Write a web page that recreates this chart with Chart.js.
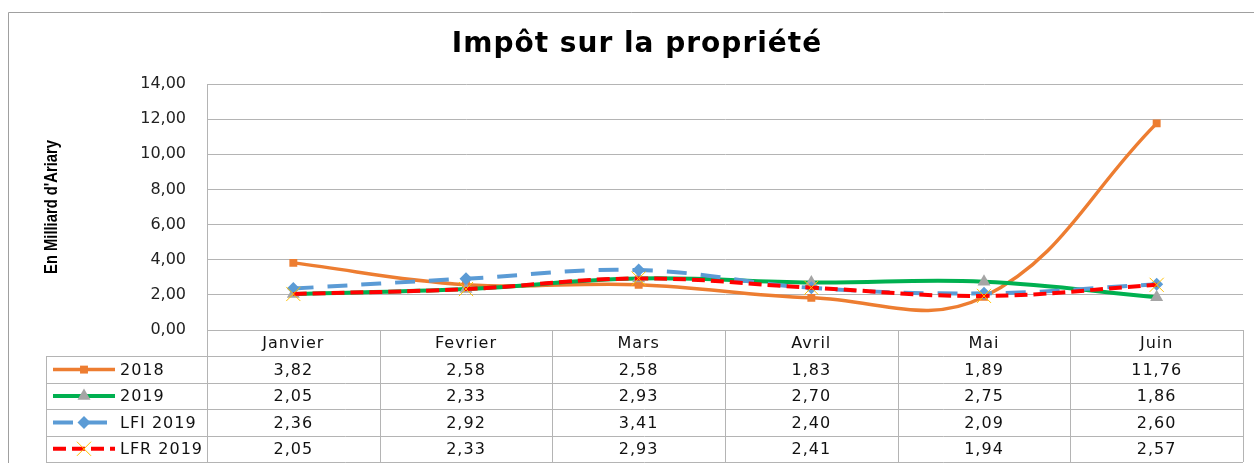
<!DOCTYPE html>
<html>
<head>
<meta charset="utf-8">
<script src="https://cdn.jsdelivr.net/npm/chart.js@4"></script>
<style>
  html, body { margin: 0; padding: 0; background: #fff; }
  #wrap { width: 1254px; height: 463px; }
</style>
</head>
<body>
<div id="wrap"><canvas id="chart" width="1254" height="463"></canvas></div>
<script>
// Data
const months = ['Janvier', 'Fevrier', 'Mars', 'Avril', 'Mai', 'Juin'];
const seriesNames = ['2018', '2019', 'LFI 2019', 'LFR 2019'];
const v2018 = [3.82, 2.58, 2.58, 1.83, 1.89, 11.76];
const v2019 = [2.05, 2.33, 2.93, 2.70, 2.75, 1.86];
const vLfi2019 = [2.36, 2.92, 3.41, 2.40, 2.09, 2.60];
const vLfr2019 = [2.05, 2.33, 2.93, 2.41, 1.94, 2.57];
const yMin = 0;
const yMax = 14;
const yStep = 2;
const chartTitle = 'Impôt sur la propriété';
const yTitle = "En Milliard d'Ariary";

const fmt = v => v.toFixed(2).replace('.', ',');
const gridColor = '#b4b4b4';
const tableFont = '16px "DejaVu Sans", sans-serif';

// Frame around the whole chart (cut off on the right and bottom like the picture)
const framePlugin = {
  id: 'frame',
  beforeDraw(chart) {
    const ctx = chart.ctx;
    ctx.save();
    ctx.strokeStyle = '#a0a0a0';
    ctx.lineWidth = 1;
    ctx.beginPath();
    ctx.moveTo(8.5, chart.height + 5);
    ctx.lineTo(8.5, 12.5);
    ctx.lineTo(chart.width + 5, 12.5);
    ctx.stroke();
    ctx.restore();
  }
};

// Title and rotated y axis title (narrow bold look)
const titlesPlugin = {
  id: 'titles',
  afterDraw(chart) {
    const ctx = chart.ctx;
    const area = chart.chartArea;
    ctx.save();
    ctx.fillStyle = '#000';
    ctx.font = 'bold 28px "DejaVu Sans", sans-serif';
    ctx.textAlign = 'center';
    ctx.textBaseline = 'middle';
    ctx.letterSpacing = '1px';
    ctx.fillText(chartTitle, 637, 45);
    ctx.restore();

    ctx.save();
    ctx.translate(52, (area.top + area.bottom) / 2);
    ctx.rotate(-Math.PI / 2);
    ctx.scale(0.82, 1);
    ctx.fillStyle = '#000';
    ctx.font = 'bold 18px "Liberation Sans", Arial, sans-serif';
    ctx.textAlign = 'center';
    ctx.textBaseline = 'middle';
    ctx.fillText(yTitle, 0, 0);
    ctx.restore();
  }
};

// Data table under the plot, with legend keys in the first column
const tablePlugin = {
  id: 'dataTable',
  afterDraw(chart) {
    const ctx = chart.ctx;
    const area = chart.chartArea;
    const xs = chart.scales.x;
    const colW = (area.right - area.left) / months.length;
    const rowH = 26.4;
    const top = area.bottom;
    const bottom = top + rowH * 5;
    const legendLeft = 46;

    ctx.save();
    ctx.strokeStyle = gridColor;
    ctx.lineWidth = 1;
    ctx.beginPath();
    for (let i = 0; i <= months.length; i++) {
      const x = Math.round(area.left + colW * i) + 0.5;
      ctx.moveTo(x, top);
      ctx.lineTo(x, bottom);
    }
    ctx.moveTo(legendLeft + 0.5, top + rowH);
    ctx.lineTo(legendLeft + 0.5, bottom);
    for (let r = 1; r <= 5; r++) {
      const y = Math.round(top + rowH * r) + 0.5;
      ctx.moveTo(legendLeft, y);
      ctx.lineTo(area.right, y);
    }
    ctx.stroke();

    ctx.fillStyle = '#111';
    ctx.font = tableFont;
    ctx.textAlign = 'center';
    ctx.textBaseline = 'middle';
    ctx.letterSpacing = '1px';
    months.forEach((m, i) => {
      ctx.fillText(m, xs.getPixelForValue(i), top + rowH / 2 + 1);
    });

    chart.data.datasets.forEach((ds, r) => {
      const cy = top + rowH * (r + 1.5) + 1;
      ctx.fillStyle = '#111';
      ctx.textAlign = 'center';
      ds.data.forEach((v, i) => {
        ctx.fillText(fmt(v), xs.getPixelForValue(i), cy);
      });
      // legend key
      ctx.save();
      ctx.strokeStyle = ds.borderColor;
      ctx.lineWidth = ds.borderWidth;
      ctx.setLineDash(ds.borderDash || []);
      ctx.beginPath();
      ctx.moveTo(53, cy - 1);
      ctx.lineTo(115, cy - 1);
      ctx.stroke();
      ctx.restore();
      ctx.save();
      ctx.setLineDash([]);
      ctx.fillStyle = ds.pointBackgroundColor;
      ctx.strokeStyle = ds.pointBorderColor;
      Chart.helpers.drawPoint(ctx, {
        pointStyle: ds.pointStyle,
        rotation: 0,
        radius: ds.pointRadius,
        borderWidth: ds.pointBorderWidth
      }, 84, cy - 1);
      ctx.restore();
      ctx.textAlign = 'left';
      ctx.fillStyle = '#111';
      ctx.fillText(ds.label, 120, cy);
    });
    ctx.restore();
  }
};

const ctx = document.getElementById('chart').getContext('2d');
const chart = new Chart(ctx, {
  type: 'line',
  data: {
    labels: months,
    datasets: [
      {
        label: seriesNames[0],
        data: v2018,
        borderColor: '#ED7D31',
        borderWidth: 3.5,
        pointStyle: 'rect',
        pointRadius: 5.6,
        pointBackgroundColor: '#ED7D31',
        pointBorderColor: '#ED7D31',
        pointBorderWidth: 0,
        order: 3
      },
      {
        label: seriesNames[1],
        data: v2019,
        borderColor: '#00B050',
        borderWidth: 4,
        pointStyle: 'triangle',
        pointRadius: 7.5,
        pointBackgroundColor: '#A5A5A5',
        pointBorderColor: '#A5A5A5',
        pointBorderWidth: 0,
        order: 2
      },
      {
        label: seriesNames[2],
        data: vLfi2019,
        borderColor: '#5B9BD5',
        borderWidth: 4,
        borderDash: [20, 14],
        pointStyle: 'rectRot',
        pointRadius: 6.5,
        pointBackgroundColor: '#5B9BD5',
        pointBorderColor: '#5B9BD5',
        pointBorderWidth: 0,
        order: 1
      },
      {
        label: seriesNames[3],
        data: vLfr2019,
        borderColor: '#FF0000',
        borderWidth: 4,
        borderDash: [13, 6],
        pointStyle: 'crossRot',
        pointRadius: 10,
        pointBackgroundColor: '#FFC000',
        pointBorderColor: '#FFC000',
        pointBorderWidth: 1,
        order: 0
      }
    ]
  },
  options: {
    responsive: false,
    animation: false,
    events: [],
    elements: {
      line: { tension: 0.4, fill: false }
    },
    layout: {
      padding: { top: 84, left: 8, right: 11, bottom: 133 }
    },
    plugins: {
      legend: { display: false },
      tooltip: { enabled: false },
      title: { display: false }
    },
    scales: {
      x: {
        display: false,
        offset: true
      },
      y: {
        min: yMin,
        max: yMax,
        ticks: {
          stepSize: yStep,
          padding: 21,
          color: '#222',
          font: { family: '"DejaVu Sans", sans-serif', size: 16 },
          callback: v => fmt(v)
        },
        grid: {
          color: gridColor,
          drawTicks: false
        },
        border: { display: true, color: gridColor },
        afterFit(scale) {
          scale.width = 199;
        }
      }
    }
  },
  plugins: [framePlugin, titlesPlugin, tablePlugin]
});
</script>
</body>
</html>
